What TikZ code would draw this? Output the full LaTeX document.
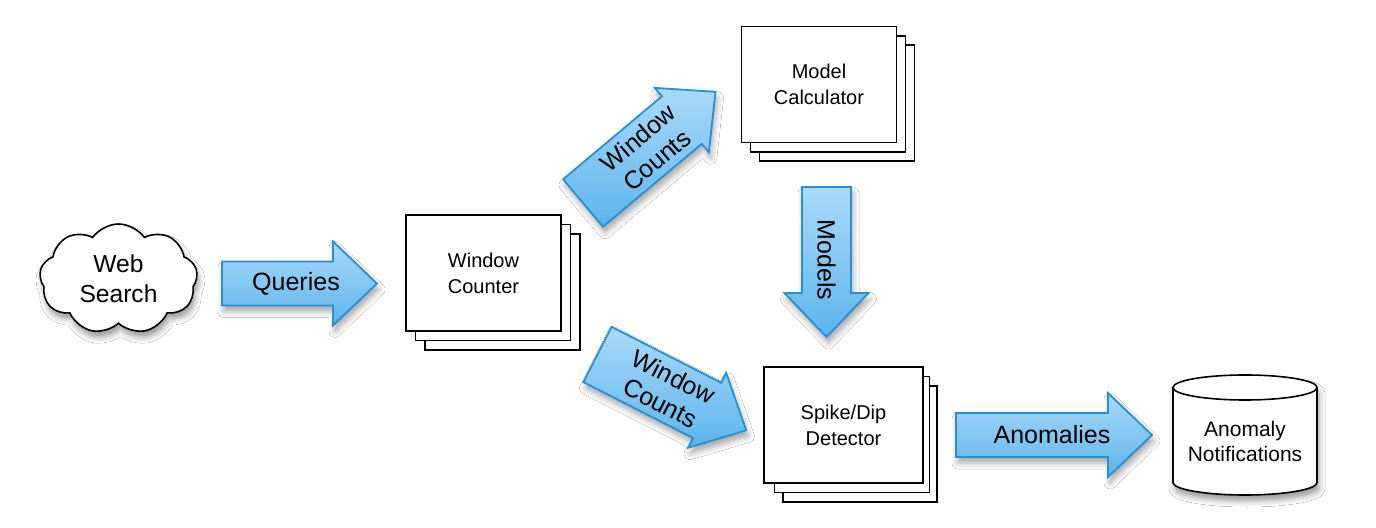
\documentclass[tikz,border=0pt]{standalone}
\usepackage{fontspec}
\setmainfont{Liberation Sans}
\usetikzlibrary{shapes.symbols,shadows.blur}
\definecolor{arrowtop}{RGB}{170,217,248}
\definecolor{arrowbot}{RGB}{92,180,236}
\definecolor{arrowline}{RGB}{38,143,214}
\tikzset{
  arrowbody/.style={draw=arrowline, line width=0.9pt, top color=arrowtop, bottom color=arrowbot, line join=miter,
    blur shadow={shadow xshift=1pt, shadow yshift=-3pt, shadow blur radius=3pt, shadow opacity=35}},
  arrowtext/.style={font=\fontsize{12.5}{14.5}\selectfont, align=center, inner sep=0pt},
  pagebox/.style={draw=black, fill=white, line width=0.8pt, minimum width=77.5pt, minimum height=58pt,
    inner sep=0pt, font=\fontsize{10}{13}\selectfont, align=center},
  cloudnode/.style={cloud, cloud puffs=9, cloud puff arc=110, aspect=1.5, draw=black, fill=white, line width=0.8pt,
    minimum width=79pt, minimum height=55pt, inner sep=0pt, align=center, font=\fontsize{12.3}{15}\selectfont,
    blur shadow={shadow xshift=1pt, shadow yshift=-3pt, shadow blur radius=3pt, shadow opacity=40}},
  cylbody/.style={draw=black, fill=white, line width=0.8pt,
    blur shadow={shadow xshift=1pt, shadow yshift=-3pt, shadow blur radius=3pt, shadow opacity=40}},
  cyltext/.style={inner sep=0pt, align=center, font=\fontsize{10.5}{12.5}\selectfont}
}
\newcommand\blockarrow[8]{%
  \begin{scope}[shift={(#2,#3)},rotate=#4]
    \path[arrowbody] (0,{-#6/2}) -- ({#5-44},{-#6/2}) -- ({#5-44},-42) -- (#5,0) -- ({#5-44},42)
      -- ({#5-44},{#6/2}) -- (0,{#6/2}) -- cycle;
    \node[arrowtext,rotate=#4] (#1) at (#7,0) {#8};
  \end{scope}}
\begin{document}
\begin{tikzpicture}[x=0.5pt,y=-0.5pt]
\useasboundingbox[fill=white] (0,0) rectangle (1376,528);

% Web search cloud
\node[cloudnode] (web) at (118.5,279) {Web\\Search};

% Window counter stack
\node[pagebox] (wc-3) at (502.5,292) {};
\node[pagebox] (wc-2) at (493,282.5) {};
\node[pagebox] (wc) at (483.5,273) {Window\\Counter};

% Model calculator stack
\node[pagebox] (mc-3) at (837,103) {};
\node[pagebox] (mc-2) at (828,94) {};
\node[pagebox] (mc) at (819,84.5) {Model\\Calculator};

% Spike/Dip detector stack
\node[pagebox, minimum width=77pt] (sd-3) at (860,444) {};
\node[pagebox, minimum width=77.5pt] (sd-2) at (852,434.5) {};
\node[pagebox, minimum width=79.5pt] (sd) at (843.5,425) {Spike/Dip\\Detector};

% Anomaly notifications cylinder
\path[cylbody] (1173,387.5) -- (1173,482.5) arc[start angle=180, end angle=0, x radius=72, y radius=12.5]
  -- (1317,387.5) arc[start angle=0, end angle=-180, x radius=72, y radius=12.5] -- cycle;
\draw[line width=0.8pt] (1173,387.5) arc[start angle=180, end angle=0, x radius=72, y radius=12.5];
\node[cyltext] (anom) at (1245,441) {Anomaly\\Notifications};

% Block arrows
\blockarrow{queries}{222}{283.5}{0}{155}{44}{74}{Queries}
\blockarrow{wcup}{583}{203}{40}{173}{62}{84}{Window\\Counts}
\blockarrow{wcdown}{597.5}{354.5}{-27}{167}{62}{78}{Window\\Counts}
\blockarrow{models}{826.5}{187}{-90}{150}{49}{73}{Models}
\blockarrow{anomalies}{956}{435}{0}{196}{44}{96}{Anomalies}
\end{tikzpicture}
\end{document}
